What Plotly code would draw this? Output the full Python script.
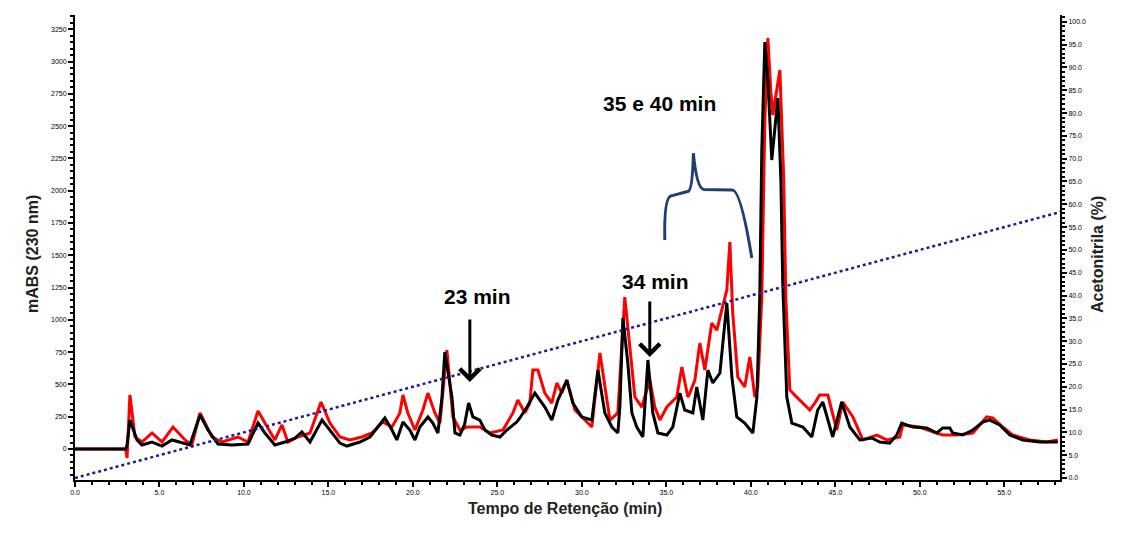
import plotly.graph_objects as go

# Retention time (min) and absorbance for the two chromatograms
black_time = [0, 3.0, 3.08, 3.25, 3.67, 3.96, 4.56, 5.15, 5.74, 6.33, 6.80, 7.40, 7.87, 8.46, 9.29,
              10.24, 10.83, 11.24, 11.83, 12.43, 13.02, 13.43, 13.91, 14.62, 15.09, 15.68, 16.09,
              16.86, 17.46, 17.93, 18.34, 18.76, 19.05, 19.41, 19.82, 20.12, 20.41, 20.89, 21.18,
              21.48, 21.72, 21.89, 22.31, 22.49, 22.78, 23.05, 23.30, 23.55, 23.96, 24.26, 24.67,
              25.15, 25.56, 26.15, 26.33, 26.75, 27.22, 27.81, 28.22, 28.58, 29.11, 29.47, 30.00,
              30.59, 30.95, 31.36, 31.78, 32.13, 32.25, 32.43, 32.72, 32.96, 33.25, 33.61, 33.91,
              34.20, 34.50, 35.03, 35.38, 35.80, 36.09, 36.57, 36.80, 37.16, 37.46, 37.75, 38.17,
              38.58, 38.88, 39.17, 39.64, 40.12, 40.36, 40.53, 40.65, 40.83, 41.01, 41.24, 41.60,
              41.78, 41.89, 42.13, 42.43, 43.08, 43.61, 43.96, 44.26, 44.85, 45.38, 45.86, 46.45,
              47.16, 47.63, 48.22, 48.64, 48.93, 49.59, 50.41, 51.01, 51.36, 51.78, 51.95, 52.54,
              53.14, 53.73, 54.14, 54.73, 55.33, 56.09, 57.10, 58.17]
black_abs = [0, 0, 31, 224, 70, 31, 54, 23, 70, 46, 31, 263, 147, 39, 31,
             39, 201, 124, 31, 54, 85, 132, 54, 224, 147, 46, 23,
             54, 93, 170, 240, 147, 70, 209, 147, 70, 170, 248, 201,
             124, 402, 751, 402, 124, 108, 186, 356, 248, 224, 147, 108,
             93, 147, 209, 240, 325, 433, 325, 224, 379, 534, 356, 248,
             224, 611, 279, 170, 124, 325, 1014, 666, 279, 170, 93, 689,
             279, 124, 108, 170, 433, 302, 279, 480, 224, 611, 511, 588,
             1130, 557, 248, 201, 124, 402, 1176, 2314, 3150, 2856, 2237, 2717,
             2082, 1285, 402, 201, 170, 93, 302, 364, 93, 364, 170, 70,
             85, 54, 46, 108, 201, 170, 163, 124, 163, 163, 124, 108,
             147, 209, 224, 186, 108, 70, 54, 54]

red_time = [0, 3.0, 3.08, 3.25, 3.55, 3.96, 4.56, 5.15, 5.80, 6.51, 6.92, 7.40, 8.11, 8.70, 9.64,
            10.24, 10.83, 11.36, 11.83, 12.25, 12.60, 13.20, 13.91, 14.56, 15.09, 15.68, 16.27,
            16.98, 17.57, 18.22, 18.76, 19.23, 19.41, 19.70, 20.12, 20.59, 20.89, 21.30, 21.60,
            22.01, 22.37, 22.78, 23.20, 23.49, 23.96, 24.56, 25.33, 25.92, 26.21, 26.63, 26.92,
            27.10, 27.40, 27.81, 28.22, 28.52, 28.82, 29.11, 29.59, 30.18, 30.59, 31.07, 31.36,
            31.66, 32.13, 32.54, 32.84, 33.14, 33.55, 34.02, 34.32, 34.62, 35.03, 35.62, 35.92,
            36.27, 36.39, 36.69, 36.98, 37.28, 37.69, 37.99, 38.28, 38.58, 38.76, 38.93, 39.23,
            39.64, 39.94, 40.24, 40.41, 40.65, 40.83, 41.01, 41.18, 41.30, 41.72, 41.95, 42.07,
            42.31, 42.72, 43.49, 43.79, 44.08, 44.56, 45.09, 45.44, 46.04, 46.63, 47.46, 48.05,
            48.82, 48.99, 50.00, 50.77, 51.36, 52.19, 53.14, 53.96, 54.32, 54.91, 55.50, 56.51,
            57.51, 58.17]
red_abs = [0, 0, -70, 418, 93, 54, 124, 54, 170, 70, 31, 279, 93, 54, 93,
           54, 294, 170, 70, 186, 54, 93, 124, 364, 201, 93, 70,
           93, 124, 209, 170, 279, 418, 279, 147, 302, 433, 279, 201,
           766, 248, 147, 170, 170, 170, 124, 147, 279, 379, 279, 356,
           611, 611, 433, 356, 511, 433, 534, 302, 224, 170, 743, 480,
           224, 279, 1176, 789, 402, 325, 534, 325, 224, 325, 402, 635,
           402, 433, 534, 820, 611, 975, 921, 1076, 1231, 1602, 1053, 557,
           480, 712, 402, 480, 1176, 2546, 3181, 2779, 2585, 2933, 2082, 1176,
           457, 402, 302, 356, 418, 418, 147, 364, 248, 70, 108, 70,
           93, 186, 170, 132, 108, 108, 124, 248, 240, 170, 108, 70,
           54, 70]

# Acetonitrile gradient (%)
gradient_time = [0, 60]
gradient_pct = [0, 60]

x_ticks = [0, 5, 10, 15, 20, 25, 30, 35, 40, 45, 50, 55]
x_ticktext = ["0.0", "5.0", "10.0", "15.0", "20.0", "25.0", "30.0", "35.0", "40.0", "45.0", "50.0", "55.0"]

fig = go.Figure()
fig.add_trace(go.Scatter(x=red_time, y=red_abs, mode="lines",
                         line=dict(color="#ff0000", width=3), showlegend=False))
fig.add_trace(go.Scatter(x=black_time, y=black_abs, mode="lines",
                         line=dict(color="#000000", width=3), showlegend=False))
fig.add_trace(go.Scatter(x=gradient_time, y=gradient_pct, mode="lines", yaxis="y2",
                         line=dict(color="#1c1c96", width=2.5, dash="dot"), showlegend=False))

tickfont = dict(family="Liberation Sans, Arial", size=7, color="black")
fig.update_layout(
    width=1126, height=534,
    margin=dict(l=75, r=66, t=15, b=54),
    paper_bgcolor="white", plot_bgcolor="white",
    xaxis=dict(range=[0, 58.3], tickvals=x_ticks, ticktext=x_ticktext,
               showline=True, linecolor="black", linewidth=2, ticks="outside",
               ticklen=5, tickwidth=1.5, tickcolor="black", showgrid=False, zeroline=False,
               tickfont=tickfont,
               minor=dict(dtick=1, ticklen=3, tickcolor="black", ticks="outside", showgrid=False)),
    yaxis=dict(range=[-240, 3360], dtick=250, showline=True, linecolor="black", linewidth=2,
               ticks="outside", ticklen=5, tickwidth=1.5, tickcolor="black", showgrid=False,
               zeroline=False, tickfont=tickfont,
               minor=dict(dtick=50, ticklen=3, tickcolor="black", ticks="outside", showgrid=False)),
    yaxis2=dict(range=[-0.44, 101.5], dtick=5, overlaying="y", side="right", tickformat=".1f",
                showline=True, linecolor="black", linewidth=2, ticks="outside", ticklen=5,
                tickwidth=1.5, tickcolor="black", showgrid=False, zeroline=False, tickfont=tickfont,
                minor=dict(dtick=1, ticklen=3, tickcolor="black", ticks="outside", showgrid=False)),
)

title_font = dict(family="Liberation Sans, Arial", size=16, color="#222222")
fig.add_annotation(text="<b>mABS (230 nm)</b>", xref="paper", yref="paper", x=0, y=0.5,
                   xshift=-53, yshift=-7, textangle=-90, showarrow=False, font=title_font)
fig.add_annotation(text="<b>Acetonitrila (%)</b>", xref="paper", yref="paper", x=1, y=0.5,
                   xshift=48, yshift=-7, textangle=-90, showarrow=False, font=title_font)
fig.add_annotation(text="<b>Tempo de Retenção (min)</b>", xref="paper", yref="paper", x=0.497, y=0,
                   yshift=-39, showarrow=False, font=title_font)

ann_font = dict(family="Liberation Sans, Arial", size=21, color="black")
fig.add_annotation(text="<b>35 e 40 min</b>", x=34.62, y=2678, showarrow=False, font=ann_font)
fig.add_annotation(text="<b>23 min</b>", x=23.85, y=1184, showarrow=False, font=ann_font)
fig.add_annotation(text="<b>34 min</b>", x=34.38, y=1300, showarrow=False, font=ann_font)

# arrows
fig.add_annotation(x=23.37, y=519, ax=0, ay=-64, text="", showarrow=True,
                   arrowhead=4, arrowsize=1.3, arrowwidth=3, arrowcolor="black")
fig.add_annotation(x=34.02, y=712, ax=0, ay=-57, text="", showarrow=True,
                   arrowhead=4, arrowsize=1.3, arrowwidth=3, arrowcolor="black")

# bracket
fig.add_shape(type="path", xref="x", yref="y",
              path="M 34.91,1618 Q 34.85,1950 35.3,1960 L 36.3,1995 Q 36.55,2010 36.6,2290 "
                   "Q 36.8,2020 37.2,2010 L 38.9,2005 Q 39.4,2005 40.06,1478",
              line=dict(color="#1f3f73", width=3))

fig.write_html("out.html")
